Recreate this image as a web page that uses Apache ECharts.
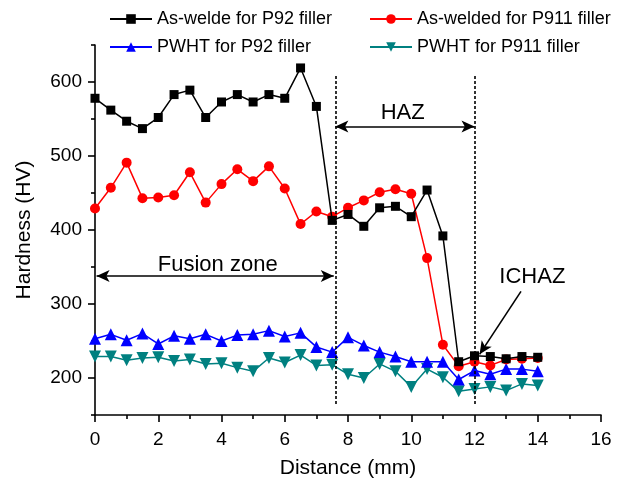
<!DOCTYPE html>
<html>
<head>
<meta charset="utf-8">
<script src="https://cdn.jsdelivr.net/npm/echarts@6/dist/echarts.min.js"></script>
<style>
  html, body { margin: 0; padding: 0; background: #fff; }
  #chart { width: 632px; height: 480px; }
</style>
</head>
<body>
<div id="chart"></div>
<script>
// 距离 (mm)
const distance = [0, 0.5, 1, 1.5, 2, 2.5, 3, 3.5, 4, 4.5, 5, 5.5, 6, 6.5, 7, 7.5,
  8, 8.5, 9, 9.5, 10, 10.5, 11, 11.5, 12, 12.5, 13, 13.5, 14];

// 硬度 (HV)
const asWeldP92 = [578, 562, 547, 537, 552, 583, 589, 552, 573, 583, 573, 583, 578, 619, 567, 413,
  421, 405, 430, 432, 418, 454, 392, 222, 230, 229, 226, 229, 228];
const asWeldP911 = [429, 457, 491, 443, 444, 447, 478, 437, 462, 482, 466, 486, 456, 408, 425, 418,
  430, 440, 451, 455, 449, 362, 245, 216, 222, 217, 225, 226, 227];
const pwhtP92 = [253, 259, 251, 260, 246, 257, 253, 259, 250, 258, 259, 264, 256, 261, 242, 235,
  255, 244, 235, 229, 222, 222, 222, 198, 210, 205, 212, 212, 209];
const pwhtP911 = [229, 229, 224, 227, 228, 223, 225, 219, 220, 214, 209, 227, 221, 231, 217, 218,
  205, 200, 219, 209, 188, 212, 201, 182, 185, 188, 183, 192, 190];

const seriesNames = ['As-welde for P92 filler', 'As-welded for P911 filler',
  'PWHT for P92 filler', 'PWHT for P911 filler'];

const yMajorTicks = [200, 300, 400, 500, 600];
const yMinorTicks = [150, 250, 350, 450, 550, 650];

// 区域分界和标注
const zoneBounds = [7.6, 12];
const FONT = 'Liberation Sans, Arial, sans-serif';

function pairs(ys) {
  return distance.map((x, i) => [x, ys[i]]);
}

const chart = echarts.init(document.getElementById('chart'), null, { renderer: 'canvas' });

function legendAt(name, left, top) {
  return {
    data: [name],
    left: left,
    top: top,
    itemWidth: 42,
    itemHeight: 12,
    itemGap: 0,
    textStyle: { fontFamily: FONT, fontSize: 18, color: '#000' },
    selectedMode: false
  };
}

const arrowLine = { color: '#000', width: 1.6, type: 'solid' };
const tickStyle = { color: '#000', width: 1.6 };

const option = {
  animation: false,
  backgroundColor: '#fff',
  legend: [
    legendAt(seriesNames[0], 104, 5),
    legendAt(seriesNames[1], 364, 5),
    legendAt(seriesNames[2], 104, 33),
    legendAt(seriesNames[3], 364, 33)
  ],
  grid: { left: 95, right: 31, top: 45, bottom: 65, outerBoundsMode: 'none', containLabel: false },
  xAxis: [{
    type: 'value',
    min: 0,
    max: 16,
    interval: 2,
    name: 'Distance (mm)',
    nameLocation: 'middle',
    nameGap: 43,
    nameTextStyle: { fontFamily: FONT, fontSize: 21, color: '#000' },
    axisLine: { onZero: false, lineStyle: tickStyle },
    axisTick: { length: 7, lineStyle: tickStyle },
    minorTick: { show: true, splitNumber: 2, length: 4, lineStyle: tickStyle },
    axisLabel: { margin: 15, fontFamily: FONT, fontSize: 19, color: '#000' },
    splitLine: { show: false }
  }],
  yAxis: [{
    type: 'value',
    min: 150,
    max: 650,
    name: 'Hardness (HV)',
    nameLocation: 'middle',
    nameGap: 60,
    nameTextStyle: { fontFamily: FONT, fontSize: 21, color: '#000' },
    axisLine: { onZero: false, lineStyle: tickStyle },
    axisTick: { length: 7, customValues: yMajorTicks, lineStyle: tickStyle },
    axisLabel: { margin: 13, customValues: yMajorTicks, fontFamily: FONT, fontSize: 19, color: '#000' },
    splitLine: { show: false }
  }, {
    // 次刻度
    type: 'value',
    position: 'left',
    min: 150,
    max: 650,
    axisLine: { show: false },
    axisTick: { show: true, length: 4, customValues: yMinorTicks, lineStyle: tickStyle },
    axisLabel: { show: false, customValues: yMinorTicks },
    splitLine: { show: false }
  }],
  series: [{
    name: seriesNames[0],
    type: 'line',
    data: pairs(asWeldP92),
    symbol: 'rect',
    symbolSize: 9,
    z: 5,
    itemStyle: { color: '#000' },
    lineStyle: { color: '#000', width: 1.5 },
    markLine: {
      silent: true,
      symbol: ['none', 'none'],
      label: { show: false },
      lineStyle: { color: '#000', width: 1.6, type: [3, 2] },
      data: zoneBounds.map(x => [{ coord: [x, 165] }, { coord: [x, 609] }])
    }
  }, {
    name: seriesNames[1],
    type: 'line',
    data: pairs(asWeldP911),
    symbol: 'circle',
    symbolSize: 10,
    z: 4,
    itemStyle: { color: '#ff0000' },
    lineStyle: { color: '#ff0000', width: 1.5 },
    markLine: {
      silent: true,
      symbol: ['arrow', 'arrow'],
      symbolSize: [9, 13],
      label: { show: false },
      lineStyle: arrowLine,
      data: [
        [{ coord: [zoneBounds[0], 540] }, { coord: [zoneBounds[1], 540] }],
        [{ coord: [0.05, 338] }, { coord: [7.55, 338] }]
      ]
    }
  }, {
    name: seriesNames[2],
    type: 'line',
    data: pairs(pwhtP92),
    symbol: 'triangle',
    symbolSize: 12,
    z: 3,
    itemStyle: { color: '#0000ff' },
    lineStyle: { color: '#0000ff', width: 1.5 },
    markLine: {
      silent: true,
      symbol: ['none', 'arrow'],
      symbolSize: [9, 13],
      label: { show: false },
      lineStyle: arrowLine,
      data: [[{ coord: [13.47, 317] }, { coord: [12.16, 232] }]]
    }
  }, {
    name: seriesNames[3],
    type: 'line',
    data: pairs(pwhtP911),
    symbol: 'triangle',
    symbolRotate: 180,
    symbolSize: 12,
    z: 2,
    itemStyle: { color: '#008080' },
    lineStyle: { color: '#008080', width: 1.5 },
    markPoint: {
      silent: true,
      symbol: 'circle',
      symbolSize: 0,
      label: { show: true, position: 'inside', fontFamily: FONT, fontSize: 22, color: '#000', formatter: p => p.name },
      data: [
        { name: 'HAZ', coord: [9.73, 558] },
        { name: 'Fusion zone', coord: [3.88, 353] },
        { name: 'ICHAZ', coord: [13.83, 337] }
      ]
    }
  }]
};

chart.setOption(option);
</script>
</body>
</html>
